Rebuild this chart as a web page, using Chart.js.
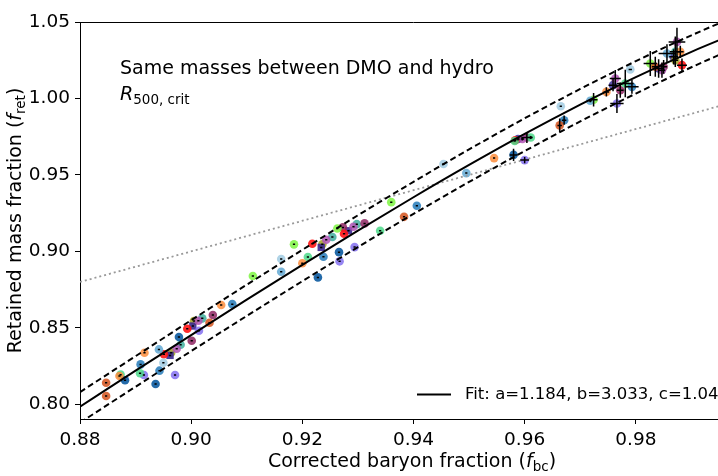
<!DOCTYPE html>
<html>
<head>
<meta charset="utf-8">
<script src="https://cdn.jsdelivr.net/npm/chart.js@4.4.1/dist/chart.umd.min.js"></script>
<style>
html,body{margin:0;padding:0;background:#fff;overflow:hidden;width:718px;height:476px;}
#wrap{position:relative;width:747px;height:476px;}
canvas{display:block;}
</style>
</head>
<body>
<div id="wrap"><canvas id="c" width="747" height="476"></canvas></div>
<script>
// ---- data ----
const fbc = [0.8847,0.8847,0.8871,0.8873,0.8881,0.8916,0.8909,0.8908,0.8915,0.8942,
  0.8943,0.8936,0.8950,0.8951,0.8974,0.8981,0.8971,0.8978,0.9001,0.8993,
  0.9014,0.9020,0.9013,0.9033,0.9039,0.9054,0.9074,0.8964,0.9005,0.9236,
  0.9111,0.9162,0.9162,0.9185,0.9200,0.9210,0.9218,0.9228,0.9243,0.9238,
  0.9254,0.9266,0.9267,0.9263,0.9273,0.9275,0.9292,0.9298,0.9312,0.9294,
  0.9340,0.9360,0.9383,0.9406,0.9454,0.9495,0.9545,0.9580,0.9600,0.9582,
  0.9583,0.9588,0.9596,0.9604,0.9611,0.9665,0.9671,0.9663,0.9718,0.9724,
  0.9747,0.9763,0.9759,0.9772,0.9766,0.9781,0.9790,0.9793,0.9826,0.9835,
  0.9841,0.9847,0.9850,0.9856,0.9871,0.9874,0.9880,0.9871,0.9868,0.9883,
  0.8962,0.9003,0.9234,0.9283];
const fret = [0.8141,0.8054,0.8185,0.8194,0.8157,0.8337,0.8261,0.8203,0.8192,0.8359,
  0.8220,0.8133,0.8272,0.8327,0.8363,0.8390,0.8192,0.8440,0.8416,0.8494,
  0.8481,0.8562,0.8546,0.8533,0.8584,0.8649,0.8655,0.8338,0.8545,0.9046,
  0.8839,0.8950,0.8867,0.9046,0.8922,0.8963,0.9050,0.8830,0.9076,0.8965,
  0.9094,0.8995,0.8935,0.9150,0.9157,0.9115,0.9161,0.9178,0.9183,0.9028,
  0.9135,0.9322,0.9226,0.9298,0.9571,0.9512,0.9610,0.9631,0.9597,0.9722,
  0.9727,0.9735,0.9735,0.9745,0.9745,0.9949,0.9858,0.9824,0.9985,0.9992,
  1.0043,1.0131,1.0087,1.0054,0.9967,1.0098,1.0190,1.0076,1.0229,1.0207,
  1.0196,1.0185,1.0207,1.0294,1.0305,1.0370,1.0305,1.0250,1.0272,1.0218,
  0.8320,0.8512,0.9026,0.9135];
const grp = [0,0,1,6,5,1,4,6,9,3,
  4,5,2,8,10,12,9,5,11,8,
  9,12,10,0,11,1,4,14,14,14,
  7,2,3,7,1,6,8,5,10,4,
  12,5,9,7,11,8,10,12,11,9,
  6,7,0,4,2,3,1,5,9,6,
  8,15,10,11,6,2,4,0,3,7,
  1,10,15,11,9,6,2,4,7,0,
  15,10,11,3,12,10,1,14,15,8,
  13,13,13,13];
const xErr = [2e-4,2e-4,2e-4,2e-4,2e-4,2e-4,2e-4,2e-4,2e-4,2e-4,
  2e-4,2e-4,2e-4,2e-4,2e-4,2e-4,2e-4,2e-4,2e-4,2e-4,
  2e-4,2e-4,2e-4,2e-4,2e-4,2e-4,2e-4,2e-4,2e-4,2e-4,
  2e-4,2e-4,2e-4,2e-4,2e-4,2e-4,2e-4,2e-4,2e-4,2e-4,
  2e-4,2e-4,2e-4,2e-4,2e-4,2e-4,2e-4,2e-4,2e-4,2e-4,
  2e-4,2e-4,2e-4,2e-4,2e-4,2e-4,2e-4,0.0007,0.0008,2e-4,
  2e-4,3e-4,3e-4,0.0010,3e-4,2e-4,4e-4,4e-4,3e-4,0.0007,
  0.0005,0.0010,0.0008,0.0006,0.0012,0.0015,3e-4,0.0012,0.0012,0.0006,
  0.0008,0.0006,0.0006,0.0015,0.0010,0.0015,0.0006,0.0005,0.0008,0.0009,
  2e-4,2e-4,2e-4,2e-4];
const yErr = [3e-4,3e-4,3e-4,3e-4,3e-4,3e-4,3e-4,3e-4,3e-4,3e-4,
  3e-4,3e-4,3e-4,3e-4,3e-4,3e-4,3e-4,3e-4,3e-4,3e-4,
  3e-4,3e-4,3e-4,3e-4,3e-4,3e-4,3e-4,3e-4,3e-4,3e-4,
  3e-4,3e-4,3e-4,3e-4,3e-4,3e-4,3e-4,3e-4,3e-4,3e-4,
  3e-4,3e-4,3e-4,3e-4,3e-4,3e-4,3e-4,3e-4,3e-4,3e-4,
  3e-4,3e-4,3e-4,3e-4,3e-4,3e-4,3e-4,0.0040,0.0020,5e-4,
  5e-4,0.0010,0.0010,0.0036,0.0010,3e-4,0.0030,0.0045,0.0010,0.0044,
  0.0030,0.0055,0.0040,0.0050,0.0062,0.0090,5e-4,0.0045,0.0082,0.0065,
  0.0060,0.0050,0.0045,0.0060,0.0100,0.0093,0.0040,0.0030,0.0050,0.0044,
  3e-4,3e-4,3e-4,3e-4];
const fitX  = [0.88,0.89,0.90,0.91,0.92,0.93,0.94,0.95,0.96,0.97,0.98,0.99,1.00];
const fitY  = [0.7985,0.8220,0.8453,0.8684,0.8912,0.9136,0.9354,0.9565,0.9768,0.9960,1.0140,1.0305,1.0455];
const fitUp = [0.8080,0.8315,0.8550,0.8782,0.9010,0.9236,0.9455,0.9667,0.9870,1.0062,1.0244,1.0413,1.0568];
const fitLo = [0.7880,0.8115,0.8348,0.8578,0.8805,0.9028,0.9245,0.9454,0.9656,0.9850,1.0032,1.0204,1.0364];
const oneX = [0.88,1.00];
const oneY = [0.88,1.00];
const xTicks = [0.88,0.90,0.92,0.94,0.96,0.98];
const yTicks = [0.80,0.85,0.90,0.95,1.00,1.05];
const groupColors = ['rgba(212,82,28,0.85)','rgba(253,141,60,0.85)','rgba(166,206,227,0.9)','rgba(107,174,214,0.9)',
  'rgba(49,130,189,0.9)','rgba(11,90,160,0.9)','rgba(76,217,138,0.85)','rgba(126,245,66,0.85)',
  'rgba(255,20,20,0.9)','rgba(132,112,240,0.85)','rgba(177,85,181,0.85)','rgba(142,36,98,0.85)',
  'rgba(63,174,158,0.85)','rgba(59,39,144,0.9)','rgba(160,160,32,0.85)','rgba(60,47,154,0.85)'];
const groupShape = ['circle','circle','circle','circle','circle','circle','circle','circle',
  'circle','circle','circle','circle','circle','rect','circle','circle'];
const legendText = 'Fit: a=1.184, b=3.033, c=1.04';

// ---- build datasets ----
const datasets = [];
const toXY = (xs, ys) => xs.map((v, i) => ({x: v, y: ys[i]}));
datasets.push({type:'line', label:'Fit', data: toXY(fitX, fitY), borderColor:'#000', borderWidth:2,
  pointRadius:0, cubicInterpolationMode:'monotone', order:0});
datasets.push({type:'line', label:'upper', data: toXY(fitX, fitUp), borderColor:'#000', borderWidth:2,
  borderDash:[6,3.5], pointRadius:0, cubicInterpolationMode:'monotone', order:0});
datasets.push({type:'line', label:'lower', data: toXY(fitX, fitLo), borderColor:'#000', borderWidth:2,
  borderDash:[6,3.5], pointRadius:0, cubicInterpolationMode:'monotone', order:0});
datasets.push({type:'line', label:'1:1', data: toXY(oneX, oneY), borderColor:'#999', borderWidth:1.8,
  borderDash:[2,3], pointRadius:0, order:0});
for (let g = 0; g < groupColors.length; g++) {
  const pts = [];
  fbc.forEach((v, i) => { if (grp[i] === g) pts.push({x: v, y: fret[i]}); });
  datasets.push({type:'scatter', label:'g'+g, data: pts, backgroundColor: groupColors[g],
    borderWidth:0, pointStyle: groupShape[g], pointRadius: groupShape[g]==='rect'?5.2:4.3, order:1});
}

function subText(ctx, parts, x, y, align) {
  let total = 0;
  parts.forEach(p => { ctx.font = p[1]; total += ctx.measureText(p[0]).width; });
  let cx = align === 'center' ? x - total/2 : x;
  parts.forEach(p => { ctx.font = p[1]; ctx.fillText(p[0], cx, y + (p[2]||0)); cx += ctx.measureText(p[0]).width; });
}

const extras = {
  id:'extras',
  afterDatasetsDraw(chart) {
    const ctx = chart.ctx, xs = chart.scales.x, ys = chart.scales.y, a = chart.chartArea;
    ctx.save();
    ctx.beginPath(); ctx.rect(a.left, a.top, a.right-a.left, a.bottom-a.top); ctx.clip();
    ctx.strokeStyle = '#000'; ctx.lineWidth = 1.5;
    for (let i = 0; i < fbc.length; i++) {
      const px = xs.getPixelForValue(fbc[i]), py = ys.getPixelForValue(fret[i]);
      const x1 = xs.getPixelForValue(fbc[i]-xErr[i]), x2 = xs.getPixelForValue(fbc[i]+xErr[i]);
      const y1 = ys.getPixelForValue(fret[i]-yErr[i]), y2 = ys.getPixelForValue(fret[i]+yErr[i]);
      ctx.beginPath();
      ctx.moveTo(x1, py); ctx.lineTo(x2, py);
      ctx.moveTo(px, y1); ctx.lineTo(px, y2);
      ctx.stroke();
    }
    ctx.restore();
  },
  afterDraw(chart) {
    const ctx = chart.ctx, a = chart.chartArea;
    ctx.save();
    ctx.strokeStyle = '#000'; ctx.lineWidth = 1;
    ctx.beginPath(); ctx.moveTo(a.left, a.top+0.5); ctx.lineTo(a.right, a.top+0.5); ctx.stroke();
    ctx.fillStyle = '#000'; ctx.textBaseline = 'alphabetic'; ctx.textAlign = 'left';
    const F = 'DejaVu Sans';
    ctx.font = '19px "'+F+'"';
    ctx.fillText('Same masses between DMO and hydro', 120, 74);
    subText(ctx, [['R', 'italic 19px "'+F+'"', 0], ['500, crit', '13.5px "'+F+'"', 4]], 120, 100, 'left');
    subText(ctx, [['Corrected baryon fraction (', '19px "'+F+'"', 0], ['f', 'italic 19px "'+F+'"', 0],
      ['bc', '13.5px "'+F+'"', 4], [')', '19px "'+F+'"', 0]], 412, 467, 'center');
    ctx.save();
    ctx.translate(20.5, (a.top + a.bottom)/2);
    ctx.rotate(-Math.PI/2);
    subText(ctx, [['Retained mass fraction (', '19px "'+F+'"', 0], ['f', 'italic 19px "'+F+'"', 0],
      ['ret', '13.5px "'+F+'"', 4], [')', '19px "'+F+'"', 0]], 0, 0, 'center');
    ctx.restore();
    ctx.lineWidth = 2; ctx.strokeStyle = '#000';
    ctx.beginPath(); ctx.moveTo(417, 394.5); ctx.lineTo(451, 394.5); ctx.stroke();
    ctx.font = '16.5px "'+F+'"'; ctx.textBaseline = 'middle';
    ctx.fillText(legendText, 465, 395);
    ctx.restore();
  }
};

Chart.defaults.font.family = 'DejaVu Sans';
Chart.defaults.color = '#000';
new Chart(document.getElementById('c'), {
  data: { datasets },
  options: {
    responsive:false, animation:false,
    layout: { autoPadding:false, padding: { top:22, right:0, left:0, bottom:0 } },
    plugins: { legend:{display:false}, tooltip:{enabled:false} },
    scales: {
      x: { type:'linear', min:0.88, max:1.0,
        afterBuildTicks: s => { s.ticks = xTicks.map(v => ({value:v})); },
        afterFit: s => { s.height = 57; s.paddingLeft = 0; s.paddingRight = 0; },
        grid: { drawOnChartArea:false, drawTicks:true, tickLength:5, tickColor:'#000', tickWidth:1 },
        border: { display:true, color:'#000', width:1 },
        ticks: { padding:5, font:{size:18.5}, color:'#000', callback: v => Number(v).toFixed(2), maxRotation:0, autoSkip:false } },
      y: { type:'linear', min:0.7904, max:1.05,
        afterBuildTicks: s => { s.ticks = yTicks.map(v => ({value:v})); },
        afterFit: s => { s.width = 80; s.paddingTop = 0; s.paddingBottom = 0; },
        grid: { drawOnChartArea:false, drawTicks:true, tickLength:5, tickColor:'#000', tickWidth:1 },
        border: { display:true, color:'#000', width:1 },
        ticks: { padding:5, font:{size:18.5}, color:'#000', callback: v => Number(v).toFixed(2), autoSkip:false } }
    }
  },
  plugins: [extras]
});
</script>
</body>
</html>
